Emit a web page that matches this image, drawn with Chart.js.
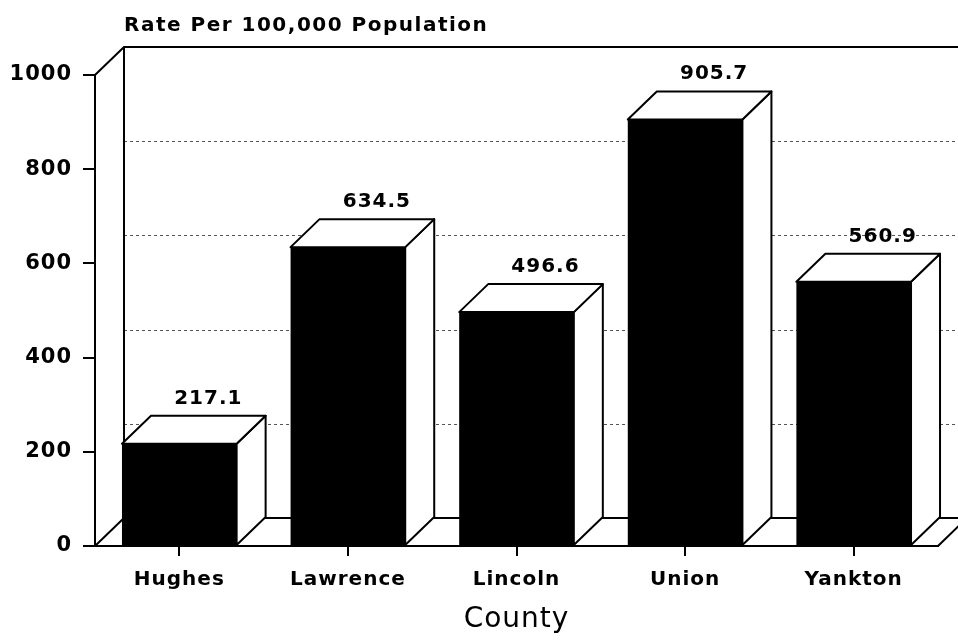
<!DOCTYPE html>
<html><head><meta charset="utf-8">
<script src="https://cdn.jsdelivr.net/npm/chart.js@4/dist/chart.umd.min.js"></script>
<style>html,body{margin:0;padding:0;background:#fff;}canvas{display:block;}</style>
</head><body>
<canvas id="c" width="958" height="644"></canvas>
<script>
const counties = ['Hughes', 'Lawrence', 'Lincoln', 'Union', 'Yankton'];
const rates = [217.1, 634.5, 496.6, 905.7, 560.9];
const rateLabels = ['217.1', '634.5', '496.6', '905.7', '560.9'];
const yTicks = [0, 200, 400, 600, 800, 1000];
const yTickLabels = ['0', '200', '400', '600', '800', '1000'];
const yTitle = 'Rate Per 100,000 Population';
const xTitle = 'County';

const DX = 29, DY = 28;

const threeD = {
  id: 'threeD',
  beforeDraw(chart) {
    const ctx = chart.ctx;
    ctx.save();
    ctx.fillStyle = '#fff';
    ctx.fillRect(0, 0, chart.width, chart.height);
    ctx.restore();
    ctx.letterSpacing = '1px';
  },
  beforeDatasetsDraw(chart) {
    const {ctx, chartArea: a, scales: {y}} = chart;
    ctx.save();
    ctx.strokeStyle = '#555';
    ctx.lineWidth = 1;
    ctx.setLineDash([3, 3]);
    yTicks.forEach(v => {
      if (v === yTicks[0] || v === yTicks[yTicks.length - 1]) return;
      const py = Math.round(y.getPixelForValue(v) - DY) + 0.5;
      ctx.beginPath();
      ctx.moveTo(a.left + DX, py);
      ctx.lineTo(chart.width, py);
      ctx.stroke();
    });
    ctx.setLineDash([]);
    ctx.strokeStyle = '#000';
    ctx.lineWidth = 2;
    const top = y.getPixelForValue(yTicks[yTicks.length - 1]);
    const bot = y.getPixelForValue(yTicks[0]);
    ctx.beginPath();
    ctx.moveTo(a.left, top); ctx.lineTo(a.left + DX, top - DY); ctx.lineTo(chart.width, top - DY);
    ctx.moveTo(a.left + DX, top - DY); ctx.lineTo(a.left + DX, bot - DY); ctx.lineTo(a.right + DX, bot - DY); ctx.lineTo(a.right, bot);
    ctx.moveTo(a.left, bot); ctx.lineTo(a.left + DX, bot - DY);
    ctx.stroke();
    ctx.restore();
  },
  afterDatasetsDraw(chart) {
    const ctx = chart.ctx;
    const meta = chart.getDatasetMeta(0);
    ctx.save();
    ctx.lineWidth = 2;
    ctx.strokeStyle = '#000';
    ctx.lineJoin = 'round';
    meta.data.forEach((bar, i) => {
      const {x, y, base, width} = bar.getProps(['x', 'y', 'base', 'width'], true);
      const l = x - width / 2, r = x + width / 2;
      ctx.fillStyle = '#fff';
      ctx.beginPath();
      ctx.moveTo(r, y); ctx.lineTo(r + DX, y - DY); ctx.lineTo(r + DX, base - DY); ctx.lineTo(r, base);
      ctx.closePath(); ctx.fill(); ctx.stroke();
      ctx.beginPath();
      ctx.moveTo(l, y); ctx.lineTo(l + DX, y - DY); ctx.lineTo(r + DX, y - DY); ctx.lineTo(r, y);
      ctx.closePath(); ctx.fill(); ctx.stroke();
      ctx.fillStyle = '#000';
      ctx.font = 'bold 20px "DejaVu Sans"';
      ctx.letterSpacing = '1px';
      ctx.textAlign = 'center';
      ctx.textBaseline = 'alphabetic';
      ctx.fillText(rateLabels[i], x + DX, y - DY - 12);
    });
    ctx.restore();
  },
  afterDraw(chart) {
    const ctx = chart.ctx;
    ctx.save();
    ctx.fillStyle = '#000';
    ctx.font = 'bold 20px "DejaVu Sans"';
    ctx.letterSpacing = '1.5px';
    ctx.textAlign = 'left';
    ctx.textBaseline = 'alphabetic';
    ctx.fillText(yTitle, chart.chartArea.left + DX, 31);
    ctx.restore();
  }
};

new Chart(document.getElementById('c'), {
  type: 'bar',
  data: {
    labels: counties,
    datasets: [{
      data: rates,
      backgroundColor: '#000',
      borderWidth: 0,
      barPercentage: 0.68,
      categoryPercentage: 1
    }]
  },
  options: {
    responsive: false,
    animation: false,
    devicePixelRatio: 1,
    layout: {padding: {top: 75, right: 20, left: 0, bottom: 0}},
    plugins: {legend: {display: false}, tooltip: {enabled: false}},
    scales: {
      x: {
        grid: {drawOnChartArea: false, offset: false, tickLength: 10, color: '#000', lineWidth: 2},
        border: {color: '#000', width: 2},
        ticks: {color: '#000', padding: 12, font: {family: 'DejaVu Sans', weight: 'bold', size: 20}},
        title: {display: true, text: xTitle, color: '#000', font: {family: 'DejaVu Sans', size: 28}, padding: {top: 0, bottom: 7}},
        afterFit(s) { s.height = 98; }
      },
      y: {
        min: 0, max: 1000,
        afterBuildTicks(s) { s.ticks = yTicks.map(v => ({value: v})); },
        grid: {drawOnChartArea: false, tickLength: 12, color: '#000', lineWidth: 2},
        border: {color: '#000', width: 2},
        ticks: {
          color: '#000', padding: 11,
          font: {family: 'DejaVu Sans', weight: 'bold', size: 21},
          callback(value) { const k = yTicks.indexOf(value); return k >= 0 ? yTickLabels[k] : ''; }
        },
        afterFit(s) { s.width = 95; }
      }
    }
  },
  plugins: [threeD]
});
</script>
</body></html>
